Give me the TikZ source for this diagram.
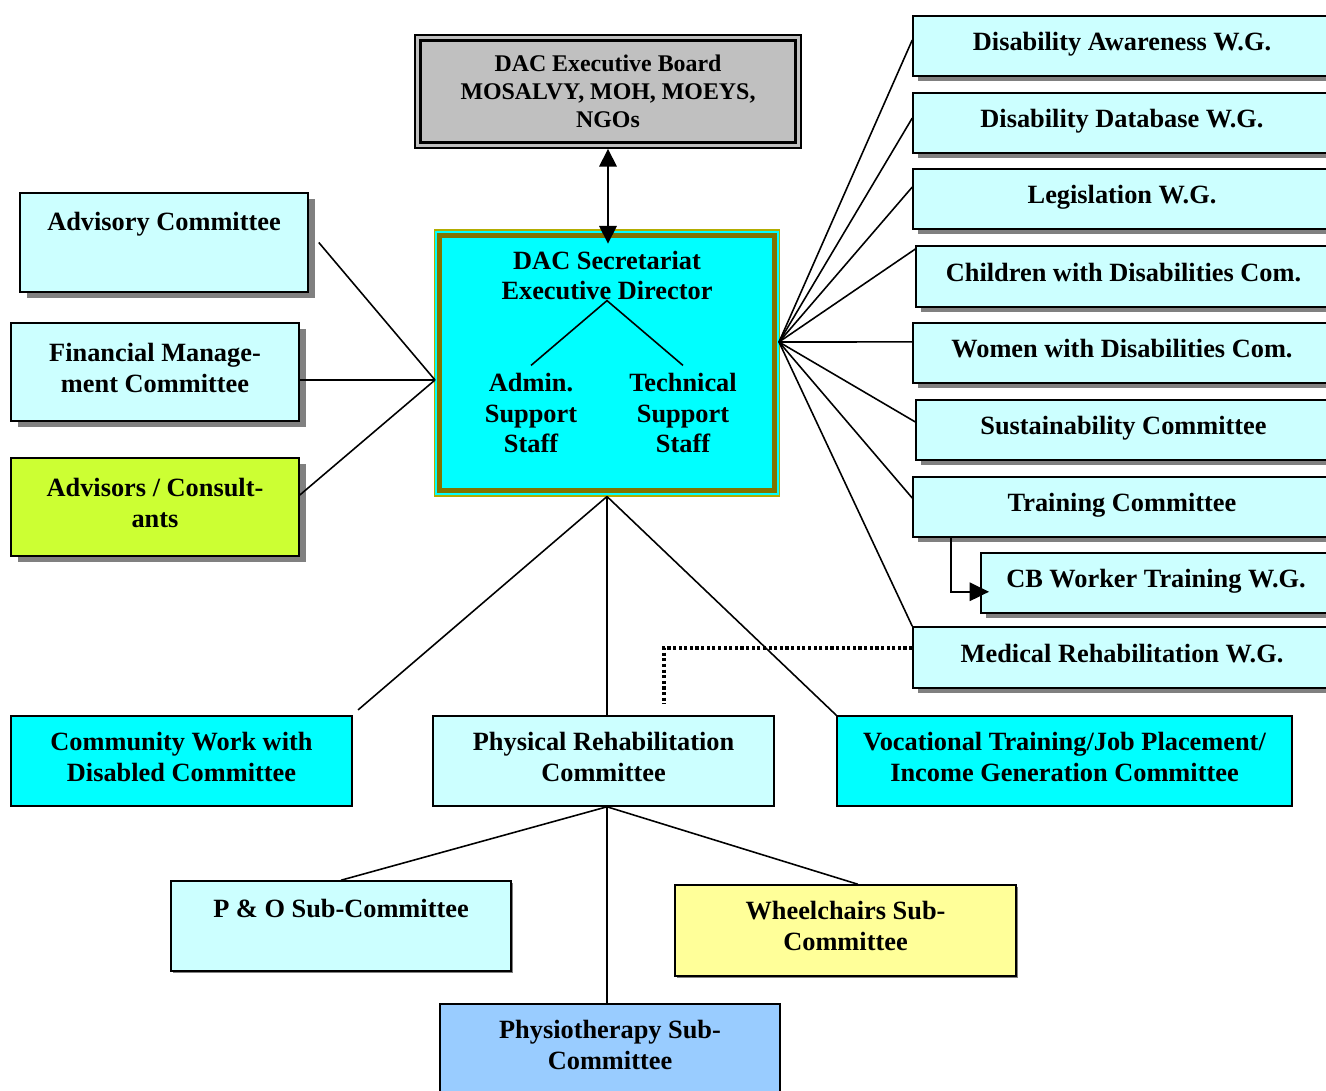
\documentclass[tikz,border=0pt]{standalone}
\usepackage{fontspec}
\setmainfont{Liberation Serif}
\usetikzlibrary{arrows.meta,shadows}

\definecolor{paleblue}{RGB}{204,255,255}
\definecolor{brightcyan}{RGB}{0,255,255}
\definecolor{boardgrey}{RGB}{192,192,192}
\definecolor{limegreen}{RGB}{204,255,51}
\definecolor{paleyellow}{RGB}{255,255,153}
\definecolor{skyblue}{RGB}{153,204,255}
\definecolor{shadowgrey}{RGB}{128,128,128}
\definecolor{secolive}{RGB}{128,116,0}

\begin{document}
\begin{tikzpicture}[x=0.02cm,y=-0.02cm,
    txt/.style={align=center,inner sep=0pt,font=\bfseries\fontsize{15}{17.6}\selectfont},
    box/.style={draw,line width=0.9pt,align=center,inner sep=2pt,text depth=5pt,
      font=\bfseries\fontsize{15}{17.6}\selectfont},
    bigshadow/.style={drop shadow={shadow xshift=3.8pt,shadow yshift=-3.6pt,fill=shadowgrey,opacity=1}},
    smallshadow/.style={drop shadow={shadow xshift=3.1pt,shadow yshift=-2.9pt,fill=shadowgrey,opacity=1}},
    tinyshadow/.style={drop shadow={shadow xshift=1.3pt,shadow yshift=-1.3pt,fill=shadowgrey,opacity=1}},
    wg/.style={box,fill=paleblue,smallshadow,minimum width=8.36cm,minimum height=1.2cm}]

  \useasboundingbox (0,0) rectangle (1326,1091);

  % board and secretariat
  \node[box,fill=boardgrey,line width=1.1pt,text depth=0pt,minimum width=7.72cm,minimum height=2.26cm,
    font=\bfseries\fontsize{13.6}{16}\selectfont] (board) at (608,91.5)
    {DAC Executive Board\\MOSALVY, MOH, MOEYS,\\NGOs};
  \draw[line width=1.7pt] ([shift={(3.4pt,-3.4pt)}]board.north west) rectangle ([shift={(-3.4pt,3.4pt)}]board.south east);

  \node[box,fill=brightcyan,draw=secolive!60!yellow,line width=0.6pt,
    minimum width=6.92cm,minimum height=5.32cm] (sec) at (607,363) {};
  \draw[secolive,line width=2.8pt] ([shift={(3.4pt,-3.4pt)}]sec.north west) rectangle ([shift={(-3.4pt,3.4pt)}]sec.south east);

  \begin{scope}[every node/.style={txt}]
    \node (director) at (607,275.5) {DAC Secretariat\\Executive Director};
    \node[inner sep=4pt] (admin) at (531,413) {Admin.\\Support\\Staff};
    \node[inner sep=4pt] (tech) at (683,413) {Technical\\Support\\Staff};
  \end{scope}
  \draw[line width=0.9pt] (admin.north) -- (director.south) -- (tech.north);

  \draw[line width=0.9pt,{Triangle[length=10pt,width=10pt]}-{Triangle[length=10pt,width=10pt]}]
    (board.south) -- ([yshift=-8pt]sec.north -| board.south);

  % left side
  \node[box,fill=paleblue,bigshadow,text depth=0pt,minimum width=5.76cm,minimum height=1.98cm] (advisory) at (164,242.5)
    {Advisory Committee\\[0.24cm]~};
  \node[box,fill=paleblue,bigshadow,minimum width=5.76cm,minimum height=1.96cm] (finance) at (155,372)
    {Financial Manage-\\ment Committee};
  \node[box,fill=limegreen,bigshadow,minimum width=5.76cm,minimum height=1.96cm] (consult) at (155,507)
    {Advisors / Consult-\\ants};

  % right side
  \node[wg] (aware) at (1122,46) {Disability Awareness W.G.};
  \node[wg] (database) at (1122,123) {Disability Database W.G.};
  \node[wg] (legis) at (1122,199) {Legislation W.G.};
  \node[wg,minimum width=8.3cm,minimum height=1.22cm] (children) at (1123.5,276.5) {Children with Disabilities Com.};
  \node[wg] (women) at (1122,353) {Women with Disabilities Com.};
  \node[wg,minimum width=8.3cm] (sustain) at (1123.5,430) {Sustainability Committee};
  \node[wg] (training) at (1122,507) {Training Committee};
  \node[wg,minimum width=7cm] (cbworker) at (1156,583) {CB Worker Training W.G.};
  \node[wg,minimum height=1.22cm] (medical) at (1122,657.5) {Medical Rehabilitation W.G.};

  % committees below
  \node[box,fill=brightcyan,minimum width=6.82cm,minimum height=1.8cm] (community) at (181.5,761)
    {Community Work with\\Disabled Committee};
  \node[box,fill=paleblue,minimum width=6.82cm,minimum height=1.8cm] (physrehab) at (603.5,761)
    {Physical Rehabilitation\\Committee};
  \node[box,fill=brightcyan,minimum width=9.1cm,minimum height=1.8cm] (vocational) at (1064.5,761)
    {Vocational Training/Job Placement/\\Income Generation Committee};

  \node[box,fill=paleblue,tinyshadow,text depth=0pt,minimum width=6.8cm,minimum height=1.8cm] (pando) at (341,926)
    {P \& O Sub-Committee\\[0.1cm]~};
  \node[box,fill=paleyellow,tinyshadow,minimum width=6.82cm,minimum height=1.82cm] (wheel) at (845.5,930.5)
    {Wheelchairs Sub-\\Committee};
  \node[box,fill=skyblue,minimum width=6.8cm,minimum height=1.82cm] (physio) at (610,1049.5)
    {Physiotherapy Sub-\\Committee};

  \coordinate (secL) at (435,380);
  \coordinate (secR) at (779,342);
  \coordinate (rehabB) at ([xshift=2pt]physrehab.south);

  \begin{scope}[every edge/.style={draw,line width=0.9pt}]
    \path ([xshift=5.7pt]advisory.east) edge (secL);
    \path (finance.east |- secL) edge (secL);
    \path ([yshift=6.8pt]consult.east) edge (secL);

    \path (secR) edge ([yshift=3.4pt]aware.west);
    \path (secR) edge ([yshift=2.8pt]database.west);
    \path (secR) edge ([yshift=6.8pt]legis.west);
    \path (secR) edge ([yshift=15.6pt]children.west);
    \path (secR) edge ([yshift=6.3pt]women.west);
    \path (secR) edge ([yshift=4.6pt]sustain.west);
    \path (secR) edge ([yshift=5.1pt]training.west);
    \path (secR) edge (medical.north west);

    \path (sec.south) edge ([shift={(3pt,3pt)}]community.north east);
    \path (sec.south) edge (sec.south |- physrehab.north);
    \path (sec.south) edge (vocational.north west);

    \path (rehabB) edge (pando.north);
    \path (rehabB) edge (rehabB |- physio.north);
    \path (rehabB) edge ([xshift=7pt]wheel.north);
  \end{scope}

  \draw[line width=0.9pt,-{Triangle[length=11pt,width=10.5pt]}]
    ([xshift=22.2pt]training.south west) |- ([shift={(5pt,-5pt)}]cbworker.west);
  \draw[line width=1.8pt,dash pattern=on 1.8pt off 1.4pt]
    ([yshift=5.4pt]medical.west) -| ([shift={(34.4pt,6.3pt)}]physrehab.north);

\end{tikzpicture}
\end{document}
